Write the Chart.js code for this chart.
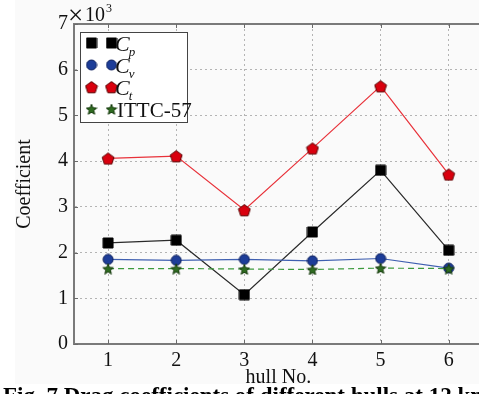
<!DOCTYPE html>
<html>
<head>
<meta charset="utf-8">
<script src="https://cdn.jsdelivr.net/npm/chart.js@4.4.1/dist/chart.umd.min.js"></script>
<style>
  html, body { margin: 0; padding: 0; background: #ffffff; overflow: hidden; }
  #wrap { position: relative; width: 479px; height: 394px; overflow: hidden; }
  #fig { position: absolute; left: 15px; top: 0; width: 470px; height: 384px; background: #fafafa; }
  #box { position: absolute; left: 0; top: 0; width: 490px; height: 394px; }
  #probe { position: absolute; left: -999px; top: 0; font-family: "Liberation Serif"; }
  #probe b { font-weight: bold; } #probe i { font-style: italic; }
</style>
</head>
<body>
<div id="wrap">
  <div id="fig"></div>
  <div id="box"><canvas id="chart" width="490" height="394"></canvas></div>
</div>
<div id="probe">Aa <b>Aa</b> <i>Aa</i></div>
<script>
// Hull numbers and drag coefficients (axis scaled by 10^3)
const hulls = ['1', '2', '3', '4', '5', '6'];
const cp   = [2.21, 2.27, 1.08, 2.45, 3.80, 2.05];
const cv   = [1.85, 1.83, 1.85, 1.82, 1.87, 1.66];
const ct   = [4.06, 4.11, 2.93, 4.28, 5.64, 3.71];
const ittc = [1.65, 1.65, 1.64, 1.63, 1.66, 1.65];
const yTicks = [0, 1, 2, 3, 4, 5, 6, 7];

const SERIF = '"Liberation Serif", "Times New Roman", serif';

// Marker sprites used both on the plot and in the legend
function makeMarker(shape, size, fill, stroke) {
  const c = document.createElement('canvas');
  c.width = size; c.height = size;
  const g = c.getContext('2d');
  const m = size / 2;
  g.fillStyle = fill; g.strokeStyle = stroke; g.lineWidth = 1;
  g.beginPath();
  if (shape === 'square') {
    g.rect(1, 1, size - 2, size - 2);
  } else if (shape === 'circle') {
    g.arc(m, m, m - 1, 0, Math.PI * 2);
  } else if (shape === 'pentagon') {
    const r = m - 0.8;
    for (let k = 0; k < 5; k++) {
      const a = -Math.PI / 2 + k * 2 * Math.PI / 5;
      const px = m + r * Math.cos(a), py = m + 0.8 + r * Math.sin(a);
      k ? g.lineTo(px, py) : g.moveTo(px, py);
    }
    g.closePath();
  } else if (shape === 'star') {
    const r = m - 0.5, ri = r * 0.45;
    for (let k = 0; k < 10; k++) {
      const a = -Math.PI / 2 + k * Math.PI / 5;
      const rr = k % 2 ? ri : r;
      const px = m + rr * Math.cos(a), py = m + 0.8 + rr * Math.sin(a);
      k ? g.lineTo(px, py) : g.moveTo(px, py);
    }
    g.closePath();
  }
  g.fill(); g.stroke();
  return c;
}

const mkCp   = makeMarker('square', 12, '#000000', '#000000');
const mkCv   = makeMarker('circle', 12, '#1d3d98', '#0b1e5c');
const mkCt   = makeMarker('pentagon', 14, '#d9000e', '#5a0000');
const mkIttc = makeMarker('star', 12, '#2e6b20', '#173a0e');

const legendItems = [
  { marker: mkCp, main: 'C', sub: 'p' },
  { marker: mkCv, main: 'C', sub: 'v' },
  { marker: mkCt, main: 'C', sub: 't' },
  { marker: mkIttc, main: 'ITTC-57', sub: '' }
];

// Frame, inward ticks, exponent note, legend and caption
const decorations = {
  id: 'decorations',
  afterDraw(chart) {
    const { ctx, chartArea: a, scales } = chart;
    const xs = scales.x, ys = scales.y;
    ctx.save();
    ctx.strokeStyle = '#7a7a7a';
    ctx.lineWidth = 2;
    ctx.beginPath();
    ctx.moveTo(a.left, a.top); ctx.lineTo(a.right, a.top); ctx.lineTo(a.right, a.bottom);
    ctx.stroke();
    // inward tick marks
    ctx.lineWidth = 1;
    ctx.strokeStyle = '#6a6a6a';
    ctx.beginPath();
    hulls.forEach((h, i) => {
      const px = Math.round(xs.getPixelForValue(i)) + 0.5;
      ctx.moveTo(px, a.bottom); ctx.lineTo(px, a.bottom - 4);
      ctx.moveTo(px, a.top); ctx.lineTo(px, a.top + 4);
    });
    yTicks.forEach(v => {
      const py = Math.round(ys.getPixelForValue(v)) + 0.5;
      ctx.moveTo(a.left, py); ctx.lineTo(a.left + 4, py);
    });
    ctx.stroke();

    // exponent note
    ctx.fillStyle = '#111';
    ctx.textBaseline = 'alphabetic';
    ctx.textAlign = 'left';
    ctx.font = '27px ' + SERIF;
    ctx.fillText('\u00d7', 68, 24);
    ctx.font = '20px ' + SERIF;
    ctx.fillText('10', 85, 21);
    ctx.font = '12px ' + SERIF;
    ctx.fillText('3', 106, 12);

    // legend
    const lx = 80.5, ly = 32.5, lw = 107, lh = 90;
    ctx.fillStyle = '#ffffff';
    ctx.fillRect(lx, ly, lw, lh);
    ctx.strokeStyle = '#444';
    ctx.lineWidth = 1;
    ctx.strokeRect(lx, ly, lw, lh);
    legendItems.forEach((it, i) => {
      const cy = 43 + i * 22;
      ctx.drawImage(it.marker, 91.5 - it.marker.width / 2, cy - it.marker.height / 2);
      ctx.drawImage(it.marker, 111.5 - it.marker.width / 2, cy - it.marker.height / 2);
      ctx.fillStyle = '#111';
      if (it.sub) {
        ctx.font = 'italic 22px ' + SERIF;
        ctx.fillText(it.main, 115, cy + 8);
        const w = ctx.measureText(it.main).width;
        ctx.font = 'italic 13px ' + SERIF;
        ctx.fillText(it.sub, 115 + w - 1, cy + 13);
      } else {
        ctx.font = '21px ' + SERIF;
        ctx.fillText(it.main, 117, cy + 8);
      }
    });

    // figure caption
    ctx.fillStyle = '#000';
    ctx.font = 'bold 23px ' + SERIF;
    ctx.fillText('Fig. 7 Drag coefficients of different hulls at 12 kn', 3, 403);
    ctx.restore();
  }
};

const lineDs = (label, data, color, marker, extra) => Object.assign({
  label, data,
  borderColor: color,
  borderWidth: 1.2,
  pointStyle: marker,
  pointRadius: 6,
  pointHoverRadius: 6,
  tension: 0,
  fill: false
}, extra || {});

function build() {
  new Chart(document.getElementById('chart'), {
    type: 'line',
    data: {
      labels: hulls,
      datasets: [
        lineDs('ITTC-57', ittc, '#3c9a3c', mkIttc, { borderDash: [6, 4] }),
        lineDs('Cv', cv, '#3f5fb0', mkCv),
        lineDs('Cp', cp, '#2a2a2a', mkCp),
        lineDs('Ct', ct, '#e8323a', mkCt)
      ]
    },
    options: {
      responsive: false,
      animation: false,
      events: [],
      layout: { padding: { top: 24, right: 6, left: 0, bottom: 0 } },
      plugins: { legend: { display: false }, tooltip: { enabled: false } },
      scales: {
        x: {
          type: 'category',
          offset: true,
          grid: { color: '#b4b4b4', lineWidth: 1, drawTicks: false, offset: false },
          border: { color: '#7a7a7a', width: 2, dash: [2, 3] },
          ticks: { color: '#111', font: { family: SERIF, size: 20 }, padding: 5, maxRotation: 0 },
          title: { display: true, text: 'hull No.', color: '#111', font: { family: SERIF, size: 20 }, padding: { top: 0, bottom: 4 } },
          afterFit(s) { s.height = 50; }
        },
        y: {
          min: 0, max: 7,
          afterBuildTicks(s) { s.ticks = yTicks.map(v => ({ value: v })); },
          grid: { color: '#b4b4b4', lineWidth: 1, drawTicks: false },
          border: { color: '#7a7a7a', width: 2, dash: [2, 3] },
          ticks: { color: '#111', font: { family: SERIF, size: 20 }, padding: 6 },
          title: { display: true, text: 'Coefficient', color: '#111', font: { family: SERIF, size: 20 }, padding: { top: 13, bottom: 0 } },
          afterFit(s) { s.width = 74; }
        }
      }
    },
    plugins: [decorations]
  });
}

Promise.all([
  document.fonts.load('20px "Liberation Serif"'),
  document.fonts.load('italic 20px "Liberation Serif"'),
  document.fonts.load('bold 20px "Liberation Serif"')
]).then(build, build);
</script>
</body>
</html>
